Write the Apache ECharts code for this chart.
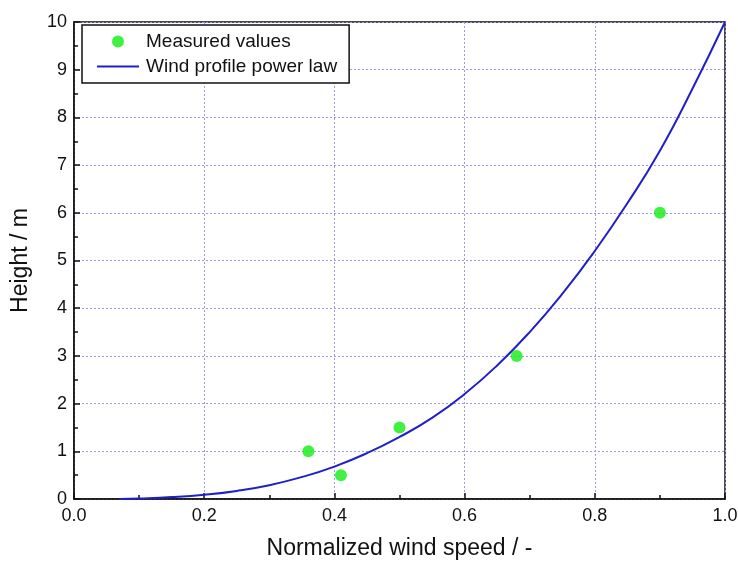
<!DOCTYPE html>
<html><head><meta charset="utf-8">
<script src="https://cdn.jsdelivr.net/npm/echarts@6/dist/echarts.min.js"></script>
<style>html,body{margin:0;padding:0;background:#fff}#c{width:738px;height:564px}</style>
</head><body><div id="c"></div>
<script>
// Measured values
const measuredSpeed = [0.36, 0.41, 0.50, 0.68, 0.90];
const measuredHeight = [1.0, 0.5, 1.5, 3.0, 6.0];
// Wind profile power law curve
const curveSpeed = [0.07, 0.10, 0.15, 0.20, 0.25, 0.30, 0.35, 0.40, 0.45, 0.50, 0.55, 0.60, 0.65, 0.70, 0.75, 0.80, 0.85, 0.90, 0.95, 1.00];
const curveHeight = [0.0, 0.01, 0.04, 0.09, 0.17, 0.29, 0.46, 0.68, 0.96, 1.30, 1.70, 2.20, 2.80, 3.50, 4.30, 5.20, 6.20, 7.30, 8.60, 10.0];
const seriesNames = ['Measured values', 'Wind profile power law'];
const xName = 'Normalized wind speed / -';
const yName = 'Height / m';

const font = 'Liberation Sans, Arial, sans-serif';
const chart = echarts.init(document.getElementById('c'), null, {renderer: 'canvas'});
const gridLine = {show: true, lineStyle: {color: '#9a9ae6', type: [2, 2], width: 1}};
chart.setOption({
  animation: false,
  backgroundColor: '#fff',
  grid: {left: 74, right: 13, top: 22, bottom: 65, outerBoundsMode: 'none', containLabel: false,
         show: true, borderColor: '#111', borderWidth: 1.5, backgroundColor: 'transparent'},
  legend: {
    orient: 'vertical', left: 82, top: 25,
    backgroundColor: '#fff',
    borderColor: '#111', borderWidth: 1.5, borderRadius: 0,
    padding: [7, 12, 7, 14], itemGap: 6,
    itemWidth: 42, itemHeight: 12,
    textStyle: {fontFamily: font, fontSize: 19, color: '#111', padding: [0, 0, 0, 2]},
    data: [
      {name: seriesNames[0], icon: 'circle'},
      {name: seriesNames[1], itemStyle: {opacity: 0}}
    ]
  },
  xAxis: {
    type: 'value', min: 0, max: 1, interval: 0.2,
    name: xName, nameLocation: 'middle', nameGap: 38,
    nameTextStyle: {fontFamily: font, fontSize: 23, color: '#111'},
    axisLine: {show: true, onZero: false, lineStyle: {color: '#111', width: 1.5}},
    axisTick: {show: true, inside: true, length: 6, lineStyle: {color: '#111', width: 1.5}},
    minorTick: {show: true, splitNumber: 2, length: 4, lineStyle: {color: '#111', width: 1.5}},
    axisLabel: {fontFamily: font, fontSize: 18, color: '#111', margin: 8, formatter: v => v.toFixed(1)},
    splitLine: gridLine
  },
  yAxis: {
    type: 'value', min: 0, max: 10, interval: 1,
    name: yName, nameLocation: 'middle', nameGap: 42, nameRotate: 90,
    nameTextStyle: {fontFamily: font, fontSize: 23, color: '#111'},
    axisLine: {show: true, onZero: false, lineStyle: {color: '#111', width: 1.5}},
    axisTick: {show: true, inside: true, length: 6, lineStyle: {color: '#111', width: 1.5}},
    minorTick: {show: true, splitNumber: 2, length: 4, lineStyle: {color: '#111', width: 1.5}},
    axisLabel: {fontFamily: font, fontSize: 18, color: '#111', margin: 7},
    splitLine: gridLine
  },
  series: [
    {
      name: seriesNames[0], type: 'scatter', symbol: 'circle', symbolSize: 12,
      itemStyle: {color: '#11ee11'}, z: 3,
      data: measuredSpeed.map((x, i) => [x, measuredHeight[i]])
    },
    {
      name: seriesNames[1], type: 'line', smooth: true, showSymbol: false, symbol: 'none',
      lineStyle: {color: '#2020c8', width: 2}, itemStyle: {color: '#2020c8'}, z: 2,
      data: curveSpeed.map((x, i) => [x, curveHeight[i]])
    }
  ]
});
</script></body></html>
